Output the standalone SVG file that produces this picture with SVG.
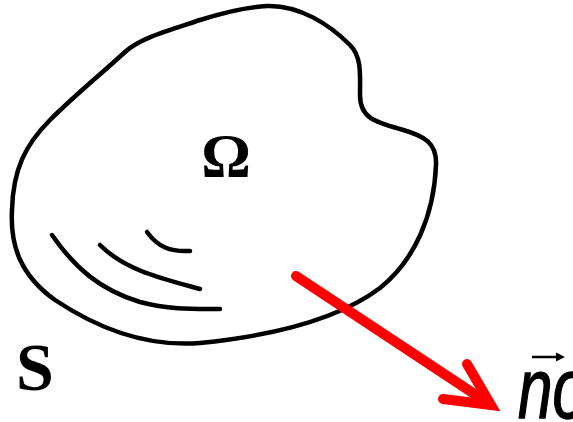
<svg xmlns="http://www.w3.org/2000/svg" width="573" height="422" viewBox="0 0 573 422">
<style>
.ln{fill:none;stroke:#000;stroke-width:4.5;stroke-linecap:round;stroke-linejoin:round}
.red{fill:none;stroke:#ff0000;stroke-width:10;stroke-linecap:round}
.bs{font-family:"Liberation Serif",serif;font-weight:bold;fill:#000}
</style>
<rect width="573" height="422" fill="#fff"/>
<g id="domain">
<path class="ln" d="M267,6 C300,5 330,25 350,45 C362,57 360,75 360,95 C360,118 375,122 400,129 C425,136 437,143 436,165 C434,215 415,260 380,288 C340,318 280,335 200,343 C150,347 100,330 55,300 C20,275 10,245 12,210 C13,170 25,145 50,120 C75,95 100,75 125,52 C140,38 170,30 200,20 C225,12 245,7 267,6 Z"/>
<path class="ln" d="M52,235 C75,268 100,290 140,302 C170,310 195,309 220,309"/>
<path class="ln" d="M100,245 C125,270 160,278 200,289"/>
<path class="ln" d="M147,232 C158,247 170,252 190,251"/>
<text class="bs" x="226" y="176" font-size="62" text-anchor="middle">Ω</text>
<text class="bs" x="16" y="390" font-size="68">S</text>
</g>
<g id="connectors">
<line class="red" x1="296" y1="276" x2="482" y2="399" stroke-linecap="butt"/>
<polyline class="red" points="467,364 491,405 443,399" stroke-linejoin="miter"/>
</g>
<g id="normal">
<text transform="translate(518,418) scale(0.72,1)" font-family="Liberation Sans,sans-serif" font-style="italic" font-size="86" fill="#000" stroke="#000" stroke-width="1.5">no</text>
<line x1="532" y1="357" x2="558" y2="357" stroke="#000" stroke-width="2.5"/>
<path d="M556,352.5 L565,357 L556,361.5 Z" fill="#000"/>
</g>
</svg>
